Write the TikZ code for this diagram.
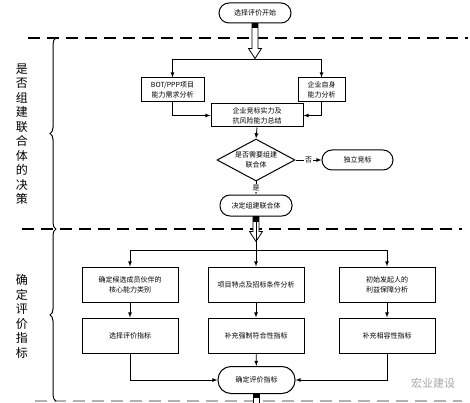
\documentclass[tikz,border=0pt]{standalone}
\usepackage{fontspec}
\setmainfont{Noto Sans CJK SC}
\usetikzlibrary{shapes.geometric,decorations.pathreplacing}

\tikzset{
  box/.style={draw,line width=1pt,align=center,inner sep=1pt,
    font=\fontsize{7}{10}\selectfont},
  term/.style={box,rounded corners=10pt},
  dec/.style={box,diamond,aspect=1.86,inner sep=0pt},
  conn/.style={->,line width=0.8pt},
  hollow/.style={draw,fill=white,line width=0.8pt},
  sep/.style={line width=2.2pt,dash pattern=on 12pt off 7pt},
  side/.style={align=center,font=\fontsize{12}{14.5}\selectfont},
}

\begin{document}
\begin{tikzpicture}[x=1pt,y=-1pt,>=latex]
\useasboundingbox (0,0) rectangle (470,403);

% separators and braces
\draw[sep] (28,38) -- (468,38);
\draw[sep] (22,229) -- (462,229);
\draw[sep,gray!60] (35,401) -- (462,401);
\draw[decorate,decoration={brace,amplitude=6pt},line width=1pt] (56,229) -- (56,38);
\draw[decorate,decoration={brace,amplitude=6pt},line width=1pt] (56,401) -- (56,229);

\node[side] (sideA) at (22,134) {是\\否\\组\\建\\联\\合\\体\\的\\决\\策};
\node[side] (sideB) at (22,316.5) {确\\定\\评\\价\\指\\标};

% first stage
\node[term,minimum width=72,minimum height=20] (start) at (255,13) {选择评价开始};
\node[box,minimum width=63,minimum height=24] (bot) at (172.5,90) {BOT/PPP项目\\能力需求分析};
\node[box,minimum width=47,minimum height=24] (self) at (321.5,90) {企业自身\\能力分析};
\node[box,minimum width=92,minimum height=23] (sum) at (257,115.5) {企业竞标实力及\\抗风险能力总结};
\node[dec,minimum width=78,minimum height=42] (ask) at (256,160) {是否需要组建\\联合体};
\node[term,minimum width=71,minimum height=20] (alone) at (357.5,160) {独立竞标};
\node[term,minimum width=72,minimum height=21] (join) at (256,205.5) {决定组建联合体};

\draw[hollow] (start.south) ++(-3,0) -- ++(0,25) -- ++(-3.5,0) -- ++(6.5,10)
  -- ++(6.5,-10) -- ++(-3.5,0) -- ++(0,-25) -- cycle;
\fill (start.south) ++(-3,0) rectangle ++(6,5);

\coordinate (fork1) at (255,59);
\draw[line width=0.8pt] (bot |- fork1) -- (self |- fork1);
\draw[conn] (bot |- fork1) -- (bot.north);
\draw[conn] (self |- fork1) -- (self.north);
\draw[conn] (bot.south) |- (sum.west);
\draw[conn] (self.south) |- (sum.east);
\draw[conn] (sum.south) -- (ask.north);
\draw[conn] (ask.east) -- node[fill=white,inner sep=1pt,font=\fontsize{7}{8}\selectfont] (no) {否} (alone.west);
\draw[conn] (ask.south) -- node[fill=white,inner sep=1pt,font=\fontsize{7}{8}\selectfont] (yes) {是} (join.north);

% second stage
\node[box,minimum width=96,minimum height=35] (core) at (130,284.5) {确定候选成员伙伴的\\核心能力类别};
\node[box,minimum width=96,minimum height=35] (proj) at (256,284.5) {项目特点及招标条件分析};
\node[box,minimum width=96,minimum height=35] (init) at (387,284.5) {初始发起人的\\利益保障分析};
\node[box,minimum width=96,minimum height=35] (pick) at (130,335.5) {选择评价指标};
\node[box,minimum width=96,minimum height=35] (force) at (256,335.5) {补充强制符合性指标};
\node[box,minimum width=96,minimum height=35] (fit) at (387,335.5) {补充相容性指标};
\node[term,minimum width=77,minimum height=27,rounded corners=13pt] (final) at (256.5,380) {确定评价指标};

\draw[hollow] (join.south) ++(-3,0) -- ++(0,15) -- ++(-3.5,0) -- ++(6.5,10)
  -- ++(6.5,-10) -- ++(-3.5,0) -- ++(0,-15) -- cycle;
\fill (join.south) ++(-3,0) rectangle ++(6,5);
\coordinate (fork2) at (256,250);
\draw[line width=0.8pt] (join.south) -- (fork2);
\draw[line width=0.8pt] (core |- fork2) -- (init |- fork2);
\draw[conn] (core |- fork2) -- (core.north);
\draw[conn] (fork2) -- (proj.north);
\draw[conn] (init |- fork2) -- (init.north);
\draw[conn] (core) -- (pick);
\draw[conn] (proj) -- (force);
\draw[conn] (init) -- (fit);
\draw[conn] (pick.south) |- (final.west);
\draw[conn] (force) -- (final);
\draw[conn] (fit.south) |- (final.east);

\draw[hollow] (final.south) ++(-3,0) rectangle ++(6,12);
\fill (final.south) ++(-3,0) rectangle ++(6,4);

\node[gray!70,font=\fontsize{11}{12}\selectfont] (mark) at (433,383) {宏业建设};
\end{tikzpicture}
\end{document}
